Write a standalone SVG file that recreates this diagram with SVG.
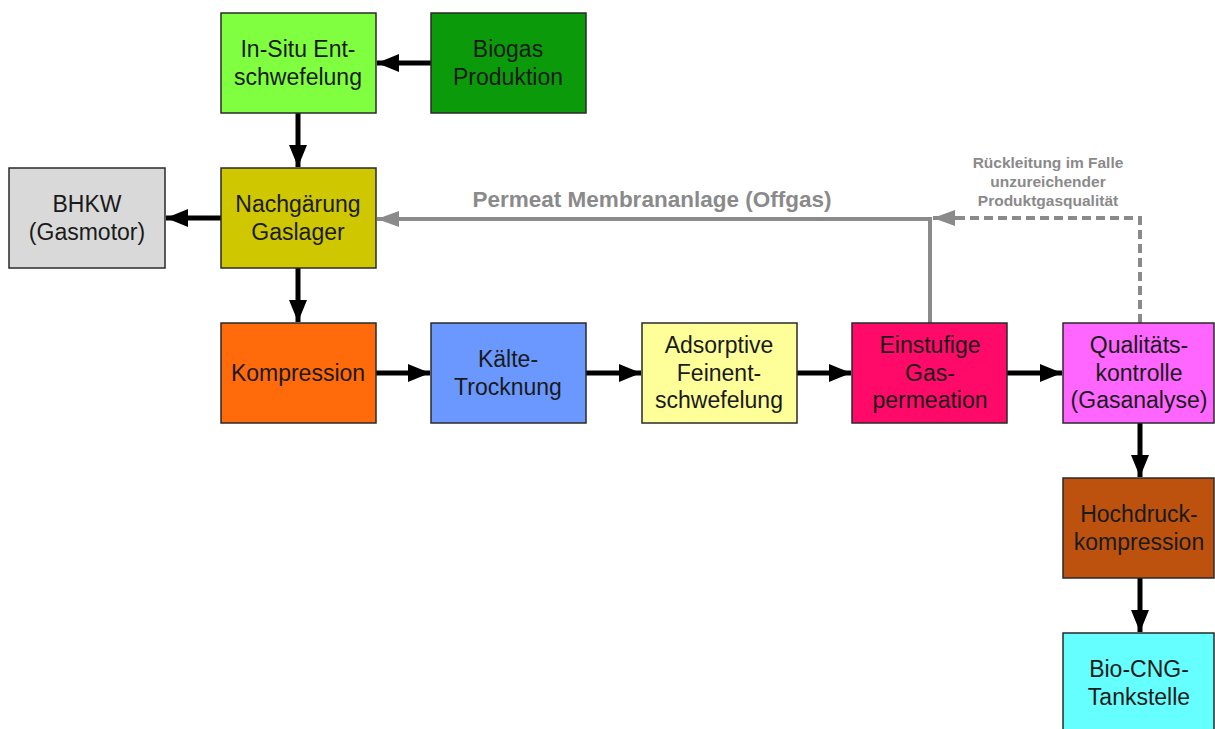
<svg xmlns="http://www.w3.org/2000/svg" width="1215" height="729" viewBox="0 0 1215 729">
<style>
.box{stroke:#2a2a2a;stroke-width:1.5}
.t{font-family:"Liberation Sans",Arial,sans-serif;font-size:23px;fill:#1a1a1a;text-anchor:middle}
.g{font-family:"Liberation Sans",Arial,sans-serif;font-weight:bold;fill:#8a8a8a;text-anchor:middle}
.a{stroke:#000;stroke-width:5;fill:none}
.ga{stroke:#8a8a8a;stroke-width:4;fill:none}
</style>
<defs>
<marker id="ah" markerUnits="userSpaceOnUse" markerWidth="22" markerHeight="20" refX="22" refY="10" orient="auto"><path d="M0,1 L22,10 L0,19 Z" fill="#000"/></marker>
<marker id="gh" markerUnits="userSpaceOnUse" markerWidth="22" markerHeight="18" refX="22" refY="9" orient="auto"><path d="M0,1 L22,9 L0,17 Z" fill="#8a8a8a"/></marker>
</defs>
<rect width="1215" height="729" fill="#fff"/>
<g id="connectors">
<line class="a" x1="431" y1="63" x2="377" y2="63" marker-end="url(#ah)"/>
<line class="a" x1="298" y1="113" x2="298" y2="167" marker-end="url(#ah)"/>
<line class="a" x1="221" y1="218" x2="166" y2="218" marker-end="url(#ah)"/>
<line class="a" x1="298" y1="268" x2="298" y2="322" marker-end="url(#ah)"/>
<line class="a" x1="375" y1="373" x2="430" y2="373" marker-end="url(#ah)"/>
<line class="a" x1="586" y1="373" x2="641" y2="373" marker-end="url(#ah)"/>
<line class="a" x1="797" y1="373" x2="851" y2="373" marker-end="url(#ah)"/>
<line class="a" x1="1007" y1="373" x2="1062" y2="373" marker-end="url(#ah)"/>
<line class="a" x1="1140" y1="423" x2="1140" y2="477" marker-end="url(#ah)"/>
<line class="a" x1="1140" y1="578" x2="1140" y2="632" marker-end="url(#ah)"/>
<polyline class="ga" points="930,323 930,219 377,219" marker-end="url(#gh)"/>
<polyline stroke="#8a8a8a" stroke-width="4" fill="none" stroke-dasharray="9,5" points="1140,323 1140,218 955,218"/>
<line class="ga" x1="956" y1="218" x2="933" y2="218" marker-end="url(#gh)"/>
<text class="g" x="652" y="207" font-size="22.5">Permeat Membrananlage (Offgas)</text>
<text class="g" x="1048" y="168" font-size="15.5">Rückleitung im Falle</text>
<text class="g" x="1048" y="187" font-size="15.5">unzureichender</text>
<text class="g" x="1048" y="206" font-size="15.5">Produktgasqualität</text>
</g>
<g id="insitu"><rect class="box" x="221" y="13" width="155" height="100" fill="#80ff40"/><text class="t" x="298" y="57">In-Situ Ent-</text><text class="t" x="298" y="85">schwefelung</text></g>
<g id="biogas"><rect class="box" x="431" y="13" width="155" height="100" fill="#0a9a0a"/><text class="t" x="508" y="57">Biogas</text><text class="t" x="508" y="85">Produktion</text></g>
<g id="bhkw"><rect class="box" x="9" y="168" width="156" height="100" fill="#d9d9d9"/><text class="t" x="87" y="212">BHKW</text><text class="t" x="87" y="240">(Gasmotor)</text></g>
<g id="nachgaerung"><rect class="box" x="221" y="168" width="155" height="100" fill="#cfc700"/><text class="t" x="298" y="212">Nachgärung</text><text class="t" x="298" y="240">Gaslager</text></g>
<g id="kompression"><rect class="box" x="221" y="323" width="155" height="100" fill="#ff6a0a"/><text class="t" x="298" y="381">Kompression</text></g>
<g id="kaelte"><rect class="box" x="431" y="323" width="155" height="100" fill="#6a98ff"/><text class="t" x="508" y="367">Kälte-</text><text class="t" x="508" y="395">Trocknung</text></g>
<g id="adsorptive"><rect class="box" x="642" y="323" width="155" height="100" fill="#ffff99"/><text class="t" x="719" y="353">Adsorptive</text><text class="t" x="719" y="381">Feinent-</text><text class="t" x="719" y="408">schwefelung</text></g>
<g id="einstufige"><rect class="box" x="852" y="323" width="155" height="100" fill="#ff0a68"/><text class="t" x="930" y="353">Einstufige</text><text class="t" x="930" y="381">Gas-</text><text class="t" x="930" y="408">permeation</text></g>
<g id="qualitaet"><rect class="box" x="1063" y="323" width="151" height="100" fill="#ff66ff"/><text class="t" x="1139" y="353">Qualitäts-</text><text class="t" x="1139" y="381">kontrolle</text><text class="t" x="1139" y="408">(Gasanalyse)</text></g>
<g id="hochdruck"><rect class="box" x="1063" y="478" width="151" height="100" fill="#bd520e"/><text class="t" x="1139" y="522">Hochdruck-</text><text class="t" x="1139" y="550">kompression</text></g>
<g id="tankstelle"><rect class="box" x="1063" y="633" width="151" height="100" fill="#66ffff"/><text class="t" x="1139" y="677">Bio-CNG-</text><text class="t" x="1139" y="705">Tankstelle</text></g>
</svg>
